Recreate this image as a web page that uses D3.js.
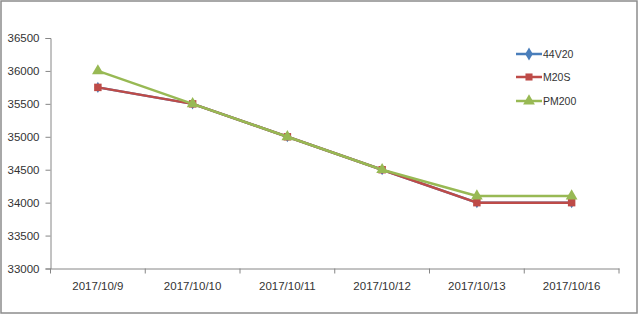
<!DOCTYPE html>
<html><head><meta charset="utf-8">
<script src="https://cdn.jsdelivr.net/npm/d3@7"></script>
<style>html,body{margin:0;padding:0;background:#fff;}svg{display:block;}</style>
</head><body>
<svg id="c" width="640" height="316"></svg>
<script>
const categories = ["2017/10/9","2017/10/10","2017/10/11","2017/10/12","2017/10/13","2017/10/16"];
const s44V20 = [35750,35500,35000,34500,34000,34000];
const sM20S  = [35750,35500,35000,34500,34000,34000];
const sPM200 = [36000,35500,35000,34500,34100,34100];
const yTicks = [33000,33500,34000,34500,35000,35500,36000,36500];
const seriesNames = ["44V20","M20S","PM200"];
const colors = ["#4A7EBB","#BE4B48","#98B954"];
const symbols = [d3.symbolDiamond, d3.symbolSquare, d3.symbolTriangle];

const svg = d3.select("#c");
const font = "'Liberation Sans', Arial, sans-serif";
svg.append("rect").attr("x",1).attr("y",1).attr("width",636).attr("height",312)
  .attr("fill","#fff").attr("stroke","#8c8c8c").attr("stroke-width",1.5);

const x = d3.scaleBand().domain(categories).range([50.5,619]);
const y = d3.scaleLinear().domain([33000,36500]).range([268.5,38]);

const yAxis = svg.append("g").attr("transform","translate(50.5,0)")
  .call(d3.axisLeft(y).tickValues(yTicks).tickSize(5).tickFormat(d3.format("d")));
yAxis.select(".domain").attr("stroke","#868686");
yAxis.selectAll(".tick line").attr("stroke","#868686");
yAxis.selectAll("text").attr("font-family",font).attr("font-size","11.5px").attr("fill","#333").attr("dx","-3");

const xAxis = svg.append("g").attr("transform","translate(0,268.5)")
  .call(d3.axisBottom(x).tickSize(0).tickSizeOuter(0));
xAxis.select(".domain").attr("stroke","#868686");
xAxis.selectAll("text").attr("font-family",font).attr("font-size","11.5px").attr("fill","#333").attr("dy","1.65em");
// category boundary ticks
const bounds = categories.map(c=>x(c)).concat([x.range()[1]]);
svg.append("g").selectAll("line").data(bounds).join("line")
  .attr("x1",d=>d).attr("x2",d=>d).attr("y1",268.5).attr("y2",273.5).attr("stroke","#868686");

const data = [s44V20, sM20S, sPM200];
const line = d3.line().x((d,i)=>x(categories[i])+x.bandwidth()/2).y(d=>y(d));
const markerSizes = [36, 56, 60];
data.forEach((vals,k)=>{
  const g = svg.append("g");
  g.append("path").datum(vals).attr("d",line).attr("fill","none")
    .attr("stroke",colors[k]).attr("stroke-width",2.5).attr("stroke-linejoin","round");
  g.selectAll("path.m").data(vals).join("path").attr("class","m")
    .attr("transform",(d,i)=>`translate(${x(categories[i])+x.bandwidth()/2},${y(d)})`)
    .attr("d",d3.symbol().type(symbols[k]).size(markerSizes[k]))
    .attr("fill",colors[k]);
});

// legend
const leg = svg.append("g");
const ly = [54,77,101];
const legSizes = [50, 50, 60];
seriesNames.forEach((n,k)=>{
  leg.append("line").attr("x1",516).attr("x2",542).attr("y1",ly[k]).attr("y2",ly[k])
    .attr("stroke",colors[k]).attr("stroke-width",2.5);
  leg.append("path").attr("transform",`translate(529,${ly[k]})`)
    .attr("d",d3.symbol().type(symbols[k]).size(legSizes[k])).attr("fill",colors[k]);
  leg.append("text").attr("x",543).attr("y",ly[k]).attr("dy","0.35em")
    .attr("font-family",font).attr("font-size","10.5px").attr("fill","#333").text(n);
});
</script>
</body></html>
